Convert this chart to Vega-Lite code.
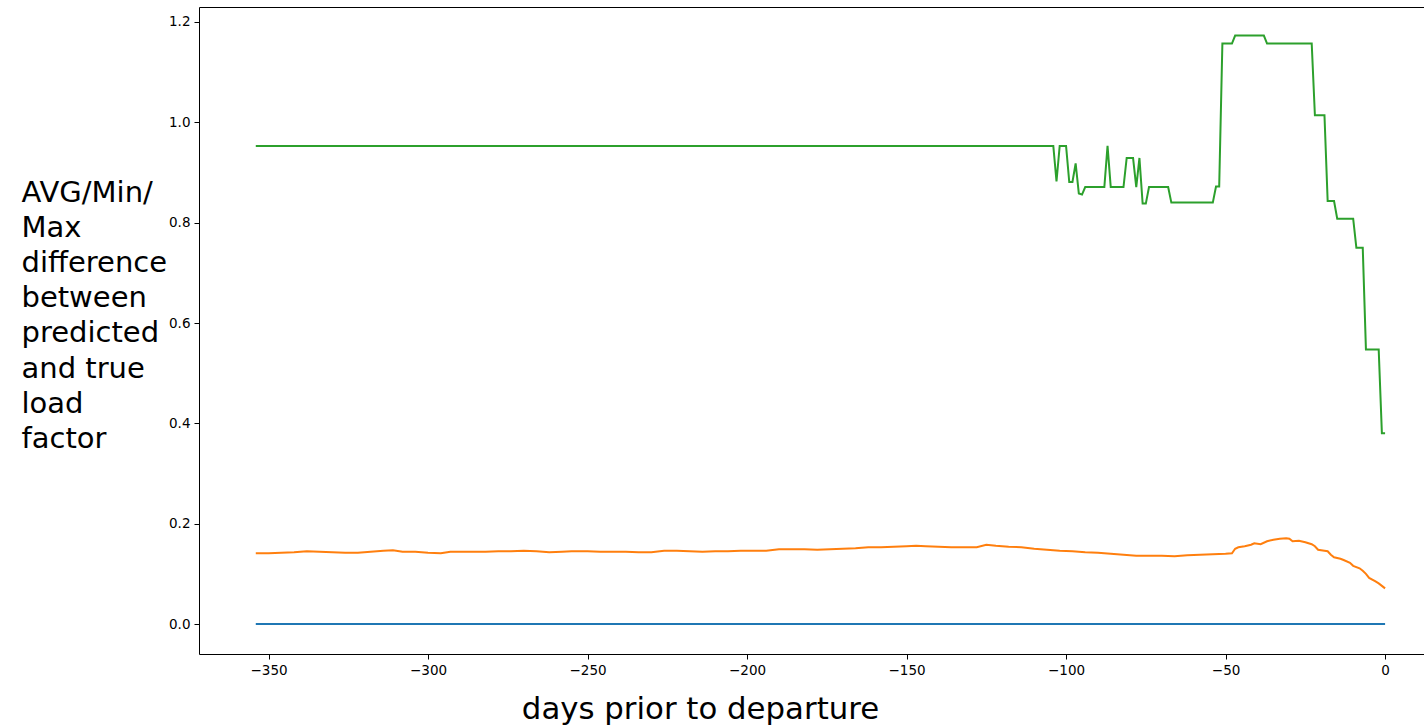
{
  "$schema": "https://vega.github.io/schema/vega-lite/v6.json",
  "autosize": {"type": "none"},
  "padding": {"left": 199, "top": 7, "right": 0, "bottom": 74},
  "width": 1225,
  "height": 647,
  "background": "white",
  "config": {
    "view": {"stroke": null},
    "font": "DejaVu Sans",
    "axis": {
      "grid": false,
      "domainColor": "#000000",
      "domainWidth": 1,
      "tickColor": "#000000",
      "tickWidth": 1,
      "tickSize": 5,
      "labelFont": "DejaVu Sans",
      "labelFontSize": 13.5,
      "labelColor": "#000000",
      "labelPadding": 4,
      "titleFont": "DejaVu Sans",
      "titleFontWeight": "normal",
      "titleColor": "#000000"
    }
  },
  "datasets": {
    "minDiff": [
      {"day": -354, "value": 0.0},
      {"day": 0, "value": 0.0}
    ],
    "avgDiff": [
      {"day": -354, "value": 0.141},
      {"day": -350, "value": 0.141},
      {"day": -346, "value": 0.142},
      {"day": -342, "value": 0.143},
      {"day": -338, "value": 0.145},
      {"day": -334, "value": 0.144},
      {"day": -330, "value": 0.143},
      {"day": -326, "value": 0.142},
      {"day": -322, "value": 0.142},
      {"day": -318, "value": 0.144},
      {"day": -314, "value": 0.146},
      {"day": -311, "value": 0.147},
      {"day": -308, "value": 0.144},
      {"day": -304, "value": 0.144},
      {"day": -300, "value": 0.142},
      {"day": -296, "value": 0.141},
      {"day": -293, "value": 0.144},
      {"day": -290, "value": 0.144},
      {"day": -286, "value": 0.144},
      {"day": -282, "value": 0.144},
      {"day": -278, "value": 0.145},
      {"day": -274, "value": 0.145},
      {"day": -270, "value": 0.146},
      {"day": -266, "value": 0.145},
      {"day": -262, "value": 0.143},
      {"day": -258, "value": 0.144},
      {"day": -255, "value": 0.145},
      {"day": -250, "value": 0.145},
      {"day": -246, "value": 0.144},
      {"day": -242, "value": 0.144},
      {"day": -238, "value": 0.144},
      {"day": -234, "value": 0.143},
      {"day": -230, "value": 0.143},
      {"day": -226, "value": 0.146},
      {"day": -222, "value": 0.146},
      {"day": -218, "value": 0.145},
      {"day": -214, "value": 0.144},
      {"day": -210, "value": 0.145},
      {"day": -206, "value": 0.145},
      {"day": -202, "value": 0.146},
      {"day": -198, "value": 0.146},
      {"day": -194, "value": 0.146},
      {"day": -190, "value": 0.149},
      {"day": -186, "value": 0.149},
      {"day": -182, "value": 0.149},
      {"day": -178, "value": 0.148},
      {"day": -174, "value": 0.149},
      {"day": -170, "value": 0.150},
      {"day": -166, "value": 0.151},
      {"day": -162, "value": 0.153},
      {"day": -158, "value": 0.153},
      {"day": -154, "value": 0.154},
      {"day": -150, "value": 0.155},
      {"day": -147, "value": 0.156},
      {"day": -144, "value": 0.155},
      {"day": -140, "value": 0.154},
      {"day": -136, "value": 0.153},
      {"day": -132, "value": 0.153},
      {"day": -128, "value": 0.153},
      {"day": -125, "value": 0.158},
      {"day": -122, "value": 0.156},
      {"day": -118, "value": 0.154},
      {"day": -114, "value": 0.153},
      {"day": -110, "value": 0.150},
      {"day": -106, "value": 0.148},
      {"day": -102, "value": 0.146},
      {"day": -98, "value": 0.145},
      {"day": -94, "value": 0.143},
      {"day": -90, "value": 0.142},
      {"day": -86, "value": 0.140},
      {"day": -82, "value": 0.138},
      {"day": -78, "value": 0.136},
      {"day": -74, "value": 0.136},
      {"day": -70, "value": 0.136},
      {"day": -66, "value": 0.135},
      {"day": -62, "value": 0.137},
      {"day": -58, "value": 0.138},
      {"day": -54, "value": 0.139},
      {"day": -50, "value": 0.140},
      {"day": -48, "value": 0.141},
      {"day": -47, "value": 0.150},
      {"day": -46, "value": 0.153},
      {"day": -44, "value": 0.155},
      {"day": -42, "value": 0.158},
      {"day": -41, "value": 0.161},
      {"day": -39, "value": 0.159},
      {"day": -37, "value": 0.165},
      {"day": -35, "value": 0.168},
      {"day": -33, "value": 0.170},
      {"day": -31, "value": 0.171},
      {"day": -30, "value": 0.170},
      {"day": -29, "value": 0.165},
      {"day": -27, "value": 0.166},
      {"day": -25, "value": 0.163},
      {"day": -23, "value": 0.159},
      {"day": -22, "value": 0.155},
      {"day": -21, "value": 0.148},
      {"day": -19, "value": 0.146},
      {"day": -18, "value": 0.145},
      {"day": -17, "value": 0.138},
      {"day": -16, "value": 0.133},
      {"day": -14, "value": 0.130},
      {"day": -13, "value": 0.1275},
      {"day": -11, "value": 0.122},
      {"day": -10, "value": 0.116},
      {"day": -8, "value": 0.111},
      {"day": -7, "value": 0.106},
      {"day": -6, "value": 0.100},
      {"day": -5, "value": 0.092},
      {"day": -3, "value": 0.085},
      {"day": -2, "value": 0.081},
      {"day": -1, "value": 0.076},
      {"day": 0, "value": 0.071}
    ],
    "maxDiff": [
      {"day": -354, "value": 0.953},
      {"day": -104, "value": 0.953},
      {"day": -103, "value": 0.882},
      {"day": -102, "value": 0.953},
      {"day": -100, "value": 0.953},
      {"day": -99, "value": 0.881},
      {"day": -98, "value": 0.881},
      {"day": -97, "value": 0.918},
      {"day": -96, "value": 0.858},
      {"day": -95, "value": 0.856},
      {"day": -94, "value": 0.871},
      {"day": -88, "value": 0.871},
      {"day": -87, "value": 0.953},
      {"day": -86, "value": 0.871},
      {"day": -82, "value": 0.871},
      {"day": -81, "value": 0.929},
      {"day": -79, "value": 0.929},
      {"day": -78, "value": 0.871},
      {"day": -77, "value": 0.929},
      {"day": -76, "value": 0.838},
      {"day": -75, "value": 0.838},
      {"day": -74, "value": 0.871},
      {"day": -68, "value": 0.871},
      {"day": -67, "value": 0.840},
      {"day": -54, "value": 0.840},
      {"day": -53, "value": 0.872},
      {"day": -52, "value": 0.872},
      {"day": -51, "value": 1.157},
      {"day": -48, "value": 1.157},
      {"day": -47, "value": 1.173},
      {"day": -38, "value": 1.173},
      {"day": -37, "value": 1.157},
      {"day": -23, "value": 1.157},
      {"day": -22, "value": 1.014},
      {"day": -19, "value": 1.014},
      {"day": -18, "value": 0.843},
      {"day": -16, "value": 0.843},
      {"day": -15, "value": 0.808},
      {"day": -10, "value": 0.808},
      {"day": -9, "value": 0.750},
      {"day": -7, "value": 0.750},
      {"day": -6, "value": 0.547},
      {"day": -3, "value": 0.547},
      {"day": -2, "value": 0.547},
      {"day": -1, "value": 0.380},
      {"day": 0, "value": 0.380}
    ]
  },
  "encoding": {
    "y": {
      "field": "value",
      "type": "quantitative",
      "scale": {"domain": [-0.0598, 1.2299], "nice": false, "zero": false},
      "axis": {
        "values": [0, 0.2, 0.4, 0.6, 0.8, 1.0, 1.2],
        "format": ".1f",
        "title": ["AVG/Min/", "Max", "difference", "between", "predicted", "and true", "load", "factor"],
        "titleAngle": 0,
        "titleAlign": "left",
        "titleBaseline": "alphabetic",
        "titleX": -178,
        "titleY": 194,
        "titleFontSize": 29,
        "titleLineHeight": 35.2
      }
    }
  },
  "layer": [
    {
      "data": {"name": "minDiff"},
      "mark": {"type": "line", "color": "#1f77b4", "strokeWidth": 2.2},
      "encoding": {
        "x": {
          "field": "day",
          "type": "quantitative",
          "scale": {"domain": [-371.8, 12.2], "nice": false, "zero": false},
          "axis": {"orient": "top", "labels": false, "ticks": false, "title": null, "domain": true}
        }
      }
    },
    {
      "layer": [
        {
          "data": {"name": "avgDiff"},
          "mark": {"type": "line", "color": "#ff7f0e", "strokeWidth": 2},
          "encoding": {}
        },
        {
          "data": {"name": "maxDiff"},
          "mark": {"type": "line", "color": "#2ca02c", "strokeWidth": 2},
          "encoding": {}
        }
      ],
      "encoding": {
        "x": {
          "field": "day",
          "type": "quantitative",
          "scale": {"domain": [-371.8, 12.2], "nice": false, "zero": false},
          "axis": {
            "orient": "bottom",
            "values": [-350, -300, -250, -200, -150, -100, -50, 0],
            "format": "d",
            "title": "days prior to departure",
            "titleFontSize": 30.8,
            "titleAlign": "center",
            "titleBaseline": "alphabetic",
            "titleX": 501,
            "titleY": 64
          }
        }
      }
    }
  ],
  "resolve": {"axis": {"x": "independent"}}
}
